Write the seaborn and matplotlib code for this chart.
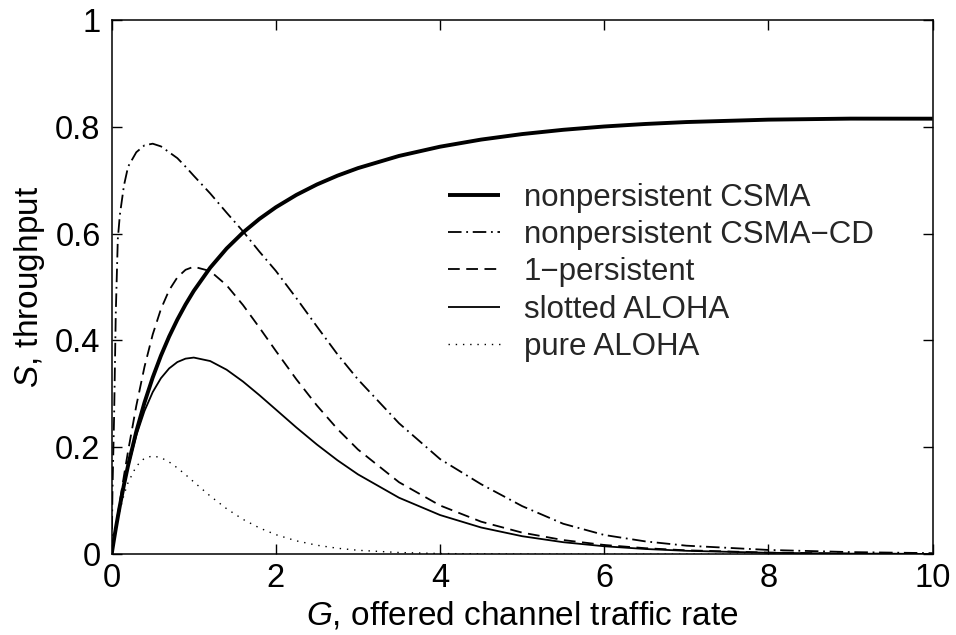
import matplotlib
matplotlib.use("Agg")
import matplotlib.pyplot as plt
import seaborn as sns
import pandas as pd

# ---- data ----
G = [0, 0.01, 0.02, 0.03, 0.05, 0.075, 0.1, 0.15, 0.2, 0.3, 0.4, 0.5, 0.6, 0.7,
     0.8, 0.9, 1.0, 1.2, 1.4, 1.6, 1.8, 2.0, 2.25, 2.5, 2.75, 3.0, 3.5, 4.0,
     4.5, 5.0, 5.5, 6.0, 6.5, 7.0, 8.0, 9.0, 10.0]

nonpersistent_csma = [0, 0.0099, 0.0196, 0.0291, 0.0476, 0.0697, 0.0907, 0.1301,
                      0.1661, 0.2295, 0.2838, 0.3306, 0.3714, 0.4072, 0.4389,
                      0.4672, 0.4926, 0.5360, 0.5719, 0.6019, 0.6273, 0.6491,
                      0.6722, 0.6917, 0.7082, 0.7223, 0.7451, 0.7624, 0.7757,
                      0.7860, 0.7940, 0.8002, 0.8049, 0.8085, 0.8130, 0.8149,
                      0.8148]

nonpersistent_csma_cd = [0, 0.12, 0.19, 0.26, 0.45, 0.59, 0.635, 0.69, 0.725,
                         0.752, 0.765, 0.768, 0.763, 0.752, 0.741, 0.725, 0.708,
                         0.675, 0.639, 0.604, 0.566, 0.530, 0.479, 0.426, 0.374,
                         0.327, 0.245, 0.178, 0.131, 0.090, 0.057, 0.036, 0.024,
                         0.016, 0.008, 0.004, 0.002]

one_persistent = [0, 0.0100, 0.0200, 0.0300, 0.0499, 0.0746, 0.0991, 0.1469,
                  0.1929, 0.2776, 0.3507, 0.4111, 0.4586, 0.4939, 0.5179,
                  0.5321, 0.5379, 0.5297, 0.5032, 0.4661, 0.4239, 0.3803,
                  0.3272, 0.2782, 0.2343, 0.1959, 0.1347, 0.0912, 0.0609,
                  0.0404, 0.0265, 0.0173, 0.0113, 0.0073, 0.0030, 0.0012,
                  0.0005]

slotted_aloha = [0, 0.0099, 0.0196, 0.0291, 0.0476, 0.0696, 0.0905, 0.1291,
                 0.1637, 0.2222, 0.2681, 0.3033, 0.3293, 0.3476, 0.3595,
                 0.3659, 0.3679, 0.3614, 0.3452, 0.3230, 0.2975, 0.2707,
                 0.2371, 0.2052, 0.1758, 0.1494, 0.1057, 0.0733, 0.0500,
                 0.0337, 0.0225, 0.0149, 0.0098, 0.0064, 0.0027, 0.0011,
                 0.0005]

pure_aloha = [0, 0.0098, 0.0192, 0.0283, 0.0452, 0.0646, 0.0819, 0.1111,
              0.1341, 0.1646, 0.1797, 0.1839, 0.1807, 0.1726, 0.1615, 0.1488,
              0.1353, 0.1089, 0.0852, 0.0652, 0.0492, 0.0366, 0.0250, 0.0168,
              0.0112, 0.0074, 0.0032, 0.0013, 0.0006, 0.0002, 0.0001, 0.0,
              0.0, 0.0, 0.0, 0.0, 0.0]

labels = ["nonpersistent CSMA", "nonpersistent CSMA\u2212CD", "1\u2212persistent",
          "slotted ALOHA", "pure ALOHA"]
x_ticks = [0, 2, 4, 6, 8, 10]
y_ticks = [0, 0.2, 0.4, 0.6, 0.8, 1]

# ---- style ----
sns.set_theme(style="white")
plt.rcParams["font.family"] = ["Liberation Sans", "DejaVu Sans"]
plt.rcParams["mathtext.fontset"] = "custom"
plt.rcParams["mathtext.rm"] = "Liberation Sans"
plt.rcParams["mathtext.it"] = "Liberation Sans:italic"

fig = plt.figure(figsize=(9.56, 6.35), dpi=100)
ax = fig.add_axes([0.1168, 0.1272, 0.8588, 0.8418])

series = [nonpersistent_csma, nonpersistent_csma_cd, one_persistent,
          slotted_aloha, pure_aloha]
styles = [
    dict(linewidth=2.8, linestyle="-"),
    dict(linewidth=1.3, linestyle=(0, (7.5, 2.6, 1.0, 2.6))),
    dict(linewidth=1.3, linestyle=(0, (6.5, 3.6))),
    dict(linewidth=1.3, linestyle="-"),
    dict(linewidth=1.0, linestyle=(0, (1.0, 4.2))),
]

for vals, lab, st in zip(series, labels, styles):
    df = pd.DataFrame({"G": G, "S": vals})
    sns.lineplot(data=df, x="G", y="S", ax=ax, color="black", label=lab,
                 solid_capstyle="butt", dash_capstyle="butt", **st)

ax.set_xlim(0, 10)
ax.set_ylim(0, 1)
ax.set_xticks(x_ticks)
ax.set_xticklabels([str(t) for t in x_ticks])
ax.set_yticks(y_ticks)
ax.set_yticklabels(["0", "0.2", "0.4", "0.6", "0.8", "1"])
ax.tick_params(direction="in", length=7, width=1.0, top=True, right=True,
               bottom=True, left=True, labelsize=23.5, colors="black")
ax.tick_params(axis="x", pad=6)
ax.tick_params(axis="y", pad=8)
for sp in ax.spines.values():
    sp.set_visible(True)
    sp.set_color("black")
    sp.set_linewidth(1.1)

ax.set_xlabel(r"$\mathit{G}$, offered channel traffic rate", fontsize=24,
              color="black", labelpad=4)
ax.set_ylabel(r"$\mathit{S}$, throughput", fontsize=24, color="black",
              labelpad=6)

leg = ax.legend(loc="upper left", bbox_to_anchor=(0.4096, 0.695), frameon=False,
                fontsize=22.5, handlelength=1.66, handletextpad=0.77,
                labelspacing=0.235, borderaxespad=0.0, borderpad=0.0)

fig.savefig("out.png", dpi=100, facecolor="white")
